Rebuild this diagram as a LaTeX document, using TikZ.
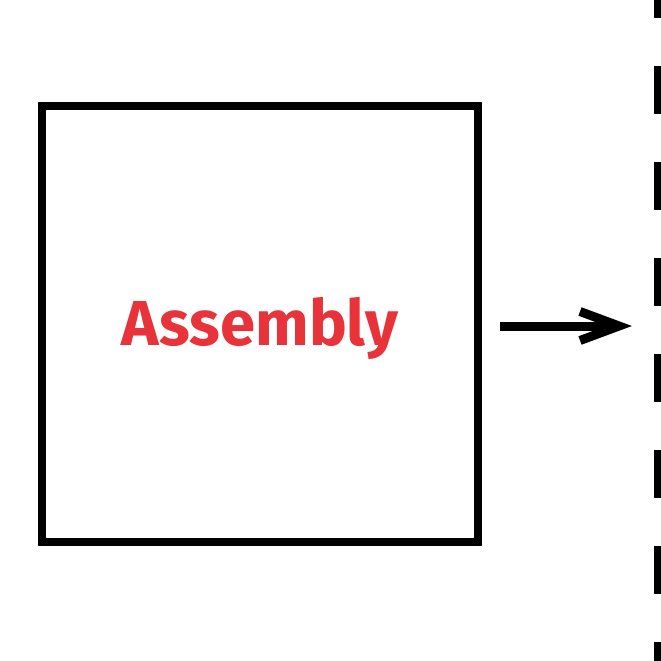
\documentclass[tikz,border=0pt]{standalone}
\usepackage{fontspec}
\newfontfamily\labelfont{Fira Sans Bold}
\definecolor{labelred}{HTML}{E8333A}
\tikzset{
  boxstyle/.style={draw=black, line width=8pt, minimum width=436pt, minimum height=436pt, inner sep=0pt},
  labelstyle/.style={text=labelred, font=\labelfont\fontsize{63.5}{63.5}\selectfont},
  arrowline/.style={draw=black, line width=9pt, miter limit=10},
  dashline/.style={draw=black, line width=8pt, dash pattern=on 48pt off 48pt}
}
\begin{document}
\begin{tikzpicture}[x=1pt,y=-1pt]
\useasboundingbox (0,0) rectangle (661,661);
\clip (0,0) rectangle (661,661);
\node[boxstyle] (box) at (260.25,324) {};
\node[labelstyle] (lbl) at (260,328) {Assembly};
\coordinate (a1) at (500,326);
\coordinate (a2) at (619,326);
\coordinate (ua) at (580,311.5);
\coordinate (la) at (580,340.5);
\draw[arrowline] (a1) -- (610,326);
\draw[arrowline, line join=miter] (ua) -- (a2) -- (la);
\coordinate (d1) at (658,-30);
\coordinate (d2) at (658,700);
\draw[dashline] (d1) -- (d2);
\end{tikzpicture}
\end{document}
